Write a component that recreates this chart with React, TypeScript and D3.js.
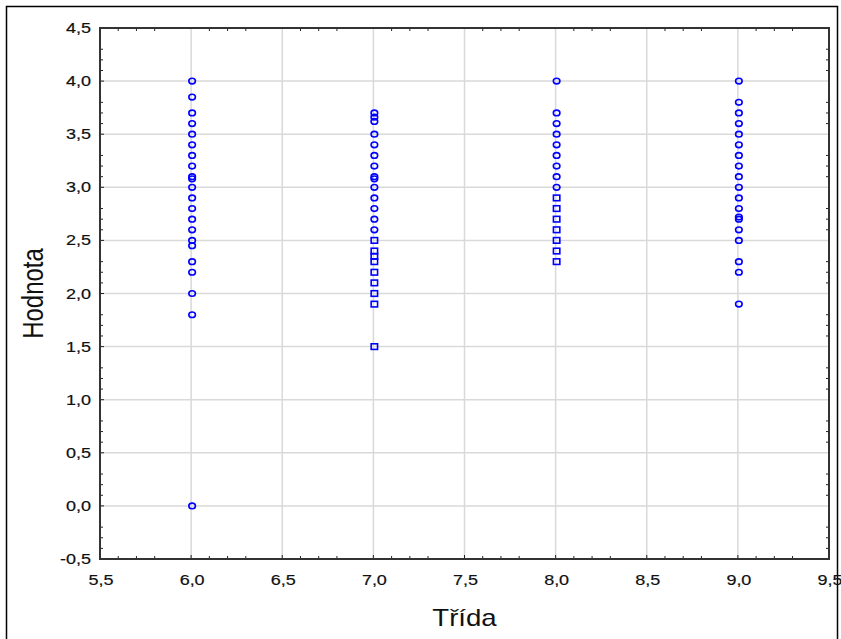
import React from "react";
import * as d3 from "d3";

const grades = [6, 7, 8, 9];
const grade6Circles = [4.0, 3.85, 3.7, 3.6, 3.5, 3.4, 3.3, 3.2, 3.1, 3.08, 3.0, 2.9, 2.8, 2.7, 2.6, 2.5, 2.45, 2.3, 2.2, 2.0, 1.8, 0.0];
const grade6Squares: number[] = [];
const grade7Circles = [3.7, 3.66, 3.62, 3.5, 3.4, 3.3, 3.2, 3.1, 3.08, 3.0, 2.9, 2.8, 2.7, 2.6];
const grade7Squares = [2.5, 2.4, 2.35, 2.3, 2.2, 2.1, 2.0, 1.9, 1.5];
const grade8Circles = [4.0, 3.7, 3.6, 3.5, 3.4, 3.3, 3.2, 3.1, 3.0];
const grade8Squares = [2.9, 2.8, 2.7, 2.6, 2.5, 2.4, 2.3];
const grade9Circles = [4.0, 3.8, 3.7, 3.6, 3.5, 3.4, 3.3, 3.2, 3.1, 3.0, 2.9, 2.8, 2.72, 2.7, 2.6, 2.5, 2.3, 2.2, 1.9];
const grade9Squares: number[] = [];

const circleSets = [grade6Circles, grade7Circles, grade8Circles, grade9Circles];
const squareSets = [grade6Squares, grade7Squares, grade8Squares, grade9Squares];

const xTicks = [5.5, 6.0, 6.5, 7.0, 7.5, 8.0, 8.5, 9.0, 9.5];
const yTicks = [-0.5, 0.0, 0.5, 1.0, 1.5, 2.0, 2.5, 3.0, 3.5, 4.0, 4.5];
const xTitle = "Třída";
const yTitle = "Hodnota";

const fmt = (v: number) => v.toFixed(1).replace(".", ",");

export default function App() {
  const W = 841, H = 639;
  const left = 100, right = 829, top = 28, bottom = 559;
  const x = d3.scaleLinear().domain([5.5, 9.5]).range([left, right]);
  const y = d3.scaleLinear().domain([-0.5, 4.5]).range([bottom, top]);
  const blue = "#0000ff";
  const stretch = 1.2;

  const minorX = d3.range(55, 96).map((v) => v / 10).filter((v) => {
    const r = Math.round(v * 10) % 5;
    return r !== 0 && r !== 4;
  });
  const minorY = d3.range(-5, 46).map((v) => v / 10).filter((v) => {
    const r = ((Math.round(v * 10) % 5) + 5) % 5;
    return r !== 0 && r !== 4;
  });

  const points: { g: number; v: number; sq: boolean }[] = [];
  grades.forEach((g, i) => {
    circleSets[i].forEach((v) => points.push({ g, v, sq: false }));
    squareSets[i].forEach((v) => points.push({ g, v, sq: true }));
  });

  return (
    <svg width={W} height={H} style={{ position: "absolute", left: 0, top: 0, display: "block", background: "#fff" }}
      fontFamily="Arial, 'Liberation Sans', sans-serif">
      <rect x={6.5} y={6.5} width={831} height={H} fill="#fff" stroke="#000" strokeWidth={1.5} />
      {xTicks.slice(1, -1).map((t) => (
        <line key={"gx" + t} x1={x(t)} x2={x(t)} y1={top} y2={bottom} stroke="#d9d9d9" strokeWidth={1.5} />
      ))}
      {yTicks.slice(1, -1).map((t) => (
        <line key={"gy" + t} x1={left} x2={right} y1={y(t)} y2={y(t)} stroke="#d9d9d9" strokeWidth={1.5} />
      ))}
      {minorX.map((t) => (
        <g key={"mx" + t}>
          <line x1={x(t)} x2={x(t)} y1={bottom} y2={bottom - 3} stroke="#222" strokeWidth={1} />
          <line x1={x(t)} x2={x(t)} y1={top} y2={top + 3} stroke="#222" strokeWidth={1} />
        </g>
      ))}
      {minorY.map((t) => (
        <g key={"my" + t}>
          <line x1={left} x2={left + 3} y1={y(t)} y2={y(t)} stroke="#222" strokeWidth={1} />
          <line x1={right} x2={right - 3} y1={y(t)} y2={y(t)} stroke="#222" strokeWidth={1} />
        </g>
      ))}
      {xTicks.map((t) => (
        <line key={"tx" + t} x1={x(t)} x2={x(t)} y1={bottom} y2={bottom - 4} stroke="#222" strokeWidth={1} />
      ))}
      {yTicks.map((t) => (
        <line key={"ty" + t} x1={left} x2={left + 4} y1={y(t)} y2={y(t)} stroke="#222" strokeWidth={1} />
      ))}
      <rect x={left} y={top} width={right - left} height={bottom - top} fill="none" stroke="#333" strokeWidth={2} />
      {xTicks.map((t) => (
        <text key={"lx" + t} transform={`translate(${x(t) + 1},${bottom + 26}) scale(${stretch},1)`} textAnchor="middle"
          fontSize={15} fill="#111" stroke="#111" strokeWidth={0.2}>{fmt(t)}</text>
      ))}
      {yTicks.map((t) => (
        <text key={"ly" + t} transform={`translate(${left - 9},${y(t) + 5}) scale(${stretch},1)`} textAnchor="end"
          fontSize={15} fill="#111" stroke="#111" strokeWidth={0.2}>{fmt(t)}</text>
      ))}
      <text transform={`translate(${(left + right) / 2},${626}) scale(${stretch},1)`} textAnchor="middle" fontSize={23} fill="#111">{xTitle}</text>
      <text transform={`translate(${43},${(top + bottom) / 2}) scale(${stretch},1) rotate(-90)`} textAnchor="middle" fontSize={24} fill="#111">{yTitle}</text>
      {points.map((p, i) =>
        p.sq ? (
          <rect key={"p" + i} x={x(p.g) + 1 - 3.2} y={y(p.v) - 2.8} width={6.4} height={5.6} fill="none" stroke={blue} strokeWidth={1.6} />
        ) : (
          <ellipse key={"p" + i} cx={x(p.g) + 1} cy={y(p.v)} rx={3.3} ry={2.8} fill="none" stroke={blue} strokeWidth={1.6} />
        )
      )}
    </svg>
  );
}
